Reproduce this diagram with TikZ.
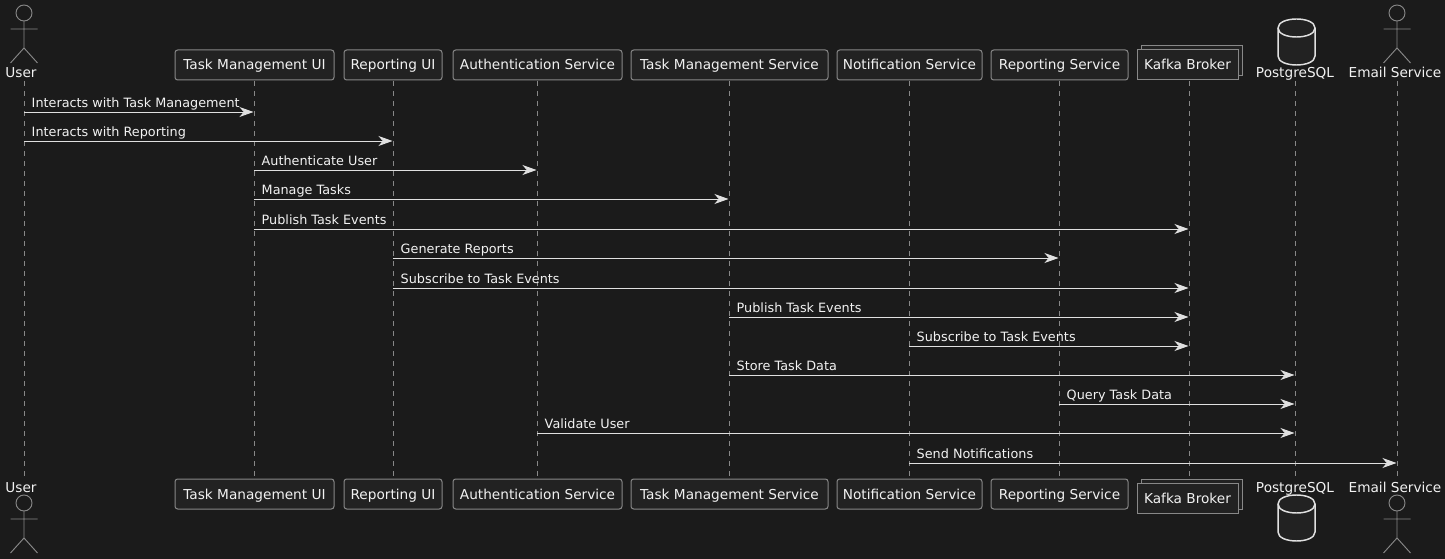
\documentclass[tikz,border=0pt]{standalone}
\usepackage{fontspec}
\setmainfont{DejaVu Sans}
\usetikzlibrary{arrows.meta,shadows}
\definecolor{bgcol}{HTML}{1B1B1B}
\definecolor{boxcol}{HTML}{222222}
\definecolor{edgecol}{HTML}{888888}
\definecolor{msgcol}{HTML}{E0E0E0}
\definecolor{txtcol}{HTML}{F2F2F2}
\tikzset{
  part/.style = {draw=edgecol, fill=boxcol, text=txtcol, rounded corners=2pt, line width=0.75pt,
    inner xsep=0pt, inner ysep=0pt, text height=9.5pt, text depth=2pt, minimum height=22.5pt,
    minimum width=#1, font=\fontsize{10.25}{12}\selectfont},
  queue/.style = {part=#1, rounded corners=0pt,
    copy shadow={shadow xshift=3pt, shadow yshift=3pt, draw=edgecol, fill=boxcol, line width=0.75pt}},
  figname/.style = {text=txtcol, inner sep=0pt, anchor=base, font=\fontsize{10.25}{12}\selectfont},
  life/.style = {draw=edgecol, line width=0.7pt, dash pattern=on 3.75pt off 3.75pt},
  msg/.style = {draw=msgcol, line width=0.7pt, shorten >=0.4pt,
    -{Stealth[length=10.5pt, width=7.5pt, inset=3.2pt, fill=msgcol]}},
  msgtext/.style = {text=txtcol, inner sep=0pt, anchor=base west, font=\fontsize{9.6}{12}\selectfont},
  actorfig/.pic = {
    \draw[draw=edgecol, line width=0.7pt] (0,0) circle (6pt);
    \draw[draw=edgecol, line width=0.7pt] (0,8) -- (0,35) (-13.5,16) -- (13.5,16) (-13.5,50) -- (0,35) -- (13.5,50);
  },
  dbfig/.pic = {
    \draw[draw=msgcol, fill=boxcol, line width=1.1pt] (-18.5,9) .. controls (-18.5,-3) and (18.5,-3) .. (18.5,9)
      -- (18.5,37) .. controls (18.5,49) and (-18.5,49) .. (-18.5,37) -- cycle;
    \draw[draw=msgcol, line width=1.1pt] (-18.5,9) .. controls (-18.5,21) and (18.5,21) .. (18.5,9);
  },
}
\begin{document}
\begin{tikzpicture}[x=0.75pt, y=-0.75pt]
\fill[bgcol] (0,0) rectangle (1445,559);
\useasboundingbox (0,0) rectangle (1445,559);
% lifelines
\foreach \who/\x in {user/24, tmui/254, rui/393, auth/537, tms/729, notif/909, rs/1059, kafka/1189, pg/1295, email/1397} {
  \coordinate (\who top) at (\x,81);
  \coordinate (\who bot) at (\x,479);
  \draw[life] (\who top) -- (\who bot);
}
% participants, top and bottom row
\foreach \row/\y/\ky/\ty/\fy/\dy in {a/65/65/78/13/19, b/494/498/492/503/495} {
  \node[part=119.25pt] (tmui\row) at (254.5,\y) {Task Management UI};
  \node[part=73.5pt] (rui\row) at (393,\y) {Reporting UI};
  \node[part=126.75pt] (auth\row) at (537.5,\y) {Authentication Service};
  \node[part=147.75pt] (tms\row) at (729.5,\y) {Task Management Service};
  \node[part=108.75pt] (notif\row) at (909.5,\y) {Notification Service};
  \node[part=102.75pt] (rs\row) at (1059.5,\y) {Reporting Service};
  \node[queue=75.75pt] (kafka\row) at (1187.5,\ky) {Kafka Broker};
  \node[figname] (user\row) at (21,\ty) {User};
  \node[figname] (pg\row) at (1295,\ty) {PostgreSQL};
  \node[figname] (email\row) at (1395,\ty) {Email Service};
  \pic at (24,\fy) {actorfig};
  \pic at (1397,\fy) {actorfig};
  \pic at (1296.5,\dy) {dbfig};
}
% messages
\foreach \i/\from/\to/\y/\txt in {
  1/user/tmui/112/Interacts with Task Management,
  2/user/rui/141/Interacts with Reporting,
  3/tmui/auth/170/Authenticate User,
  4/tmui/tms/199/Manage Tasks,
  5/tmui/kafka/229/Publish Task Events,
  6/rui/rs/258/Generate Reports,
  7/rui/kafka/288/Subscribe to Task Events,
  8/tms/kafka/317/Publish Task Events,
  9/notif/kafka/346/Subscribe to Task Events,
  10/tms/pg/375/Store Task Data,
  11/rs/pg/404/Query Task Data,
  12/auth/pg/433/Validate User,
  13/notif/email/463/Send Notifications} {
  \draw[msg] (\from top |- 0,\y) -- (\to top |- 0,\y);
  \node[msgtext] (label\i) at ([xshift=5.6pt, yshift=3.4pt]\from top |- 0,\y) {\txt};
}
\end{tikzpicture}
\end{document}
